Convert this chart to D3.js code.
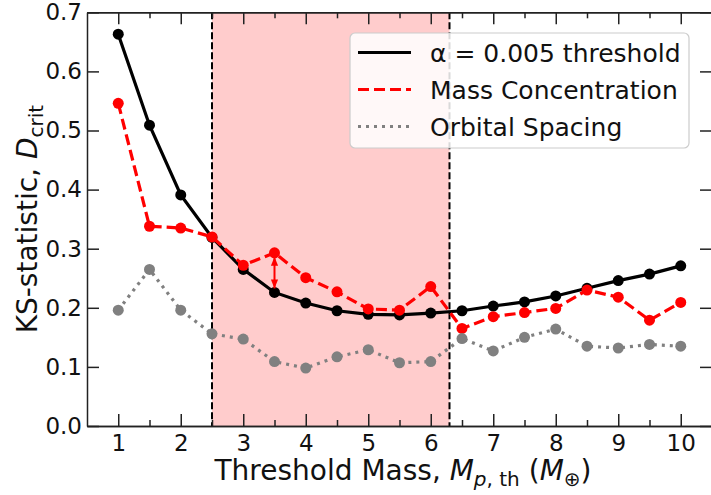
<!DOCTYPE html>
<html>
<head>
<meta charset="utf-8">
<script src="https://cdn.jsdelivr.net/npm/d3@7"></script>
<style>
  body { margin: 0; background: #fff; }
  svg { display: block; font-family: "DejaVu Sans", sans-serif; }
</style>
</head>
<body>
<svg id="chart" width="711" height="495"></svg>
<script>
// threshold masses (Earth masses)
var masses = [1, 1.5, 2, 2.5, 3, 3.5, 4, 4.5, 5, 5.5, 6, 6.5, 7, 7.5, 8, 8.5, 9, 9.5, 10];
// critical KS value, alpha = 0.005
var threshold = [0.663, 0.509, 0.391, 0.319, 0.265, 0.226, 0.208, 0.195, 0.189, 0.188, 0.191, 0.195, 0.203, 0.210, 0.220, 0.233, 0.246, 0.257, 0.271];
var massConc = [0.546, 0.338, 0.335, 0.320, 0.272, 0.293, 0.251, 0.227, 0.198, 0.196, 0.236, 0.165, 0.185, 0.192, 0.199, 0.230, 0.218, 0.179, 0.209];
var orbSpacing = [0.196, 0.265, 0.196, 0.156, 0.147, 0.109, 0.098, 0.117, 0.129, 0.107, 0.109, 0.148, 0.127, 0.150, 0.164, 0.135, 0.132, 0.138, 0.135];
var xTicks = [1, 2, 3, 4, 5, 6, 7, 8, 9, 10];
var xMinor = [1.5, 2.5, 3.5, 4.5, 5.5, 6.5, 7.5, 8.5, 9.5];
var yTicks = [0, 0.1, 0.2, 0.3, 0.4, 0.5, 0.6, 0.7];
var band = [2.5, 6.3];
var arrowAt = 3.5;

var svg = d3.select("#chart");
var plotLeft = 87, plotRight = 712, plotTop = 12.3, plotBottom = 426;

var x = d3.scaleLinear().domain([0.5, 10.5]).range([plotLeft, plotRight]);
var y = d3.scaleLinear().domain([0, 0.7]).range([plotBottom, plotTop]);

// shaded region
svg.append("rect")
    .attr("x", x(band[0]))
    .attr("y", plotTop)
    .attr("width", x(band[1]) - x(band[0]))
    .attr("height", plotBottom - plotTop)
    .style("fill", "#ffcccc");

band.forEach(function(b) {
  svg.append("line")
      .attr("x1", x(b)).attr("x2", x(b))
      .attr("y1", plotTop).attr("y2", plotBottom)
      .style("stroke", "black")
      .style("stroke-width", 2)
      .style("stroke-dasharray", "7,3");
});

var series = [
  { name: "α = 0.005 threshold", values: threshold, color: "black", dash: null },
  { name: "Mass Concentration", values: massConc, color: "red", dash: "11,5" },
  { name: "Orbital Spacing", values: orbSpacing, color: "gray", dash: "3,5" }
];

var line = d3.line()
    .x(function(d) { return x(d[0]); })
    .y(function(d) { return y(d[1]); });

series.forEach(function(s) {
  var pts = masses.map(function(m, i) { return [m, s.values[i]]; });
  var g = svg.append("g");
  g.append("path")
      .datum(pts)
      .attr("d", line)
      .style("fill", "none")
      .style("stroke", s.color)
      .style("stroke-width", 3.2)
      .style("stroke-dasharray", s.dash);
  g.selectAll("circle")
      .data(pts)
      .enter()
      .append("circle")
      .attr("cx", function(d) { return x(d[0]); })
      .attr("cy", function(d) { return y(d[1]); })
      .attr("r", 5.5)
      .style("fill", s.color);
});

// double arrow between red point and threshold at 3.5
var defs = svg.append("defs");
defs.append("marker")
    .attr("id", "head")
    .attr("viewBox", "0 0 10 10")
    .attr("refX", 10).attr("refY", 5)
    .attr("markerWidth", 9).attr("markerHeight", 9)
    .attr("markerUnits", "userSpaceOnUse")
    .attr("orient", "auto-start-reverse")
  .append("path")
    .attr("d", "M0,1 L10,5 L0,9 Z")
    .style("fill", "red");

var ai = masses.indexOf(arrowAt);
svg.append("line")
    .attr("x1", x(arrowAt)).attr("x2", x(arrowAt))
    .attr("y1", y(massConc[ai]) + 4)
    .attr("y2", y(threshold[ai]) - 4)
    .attr("marker-start", "url(#head)")
    .attr("marker-end", "url(#head)")
    .style("stroke", "red")
    .style("stroke-width", 2);

// axes, ticks pointing inward on all four sides
function styleAxis(g) {
  g.select(".domain").style("stroke", "#222").style("stroke-width", 1.5);
  g.selectAll(".tick line").style("stroke", "#222").style("stroke-width", 1.5);
  g.selectAll(".tick text").style("font-size", "23px").style("fill", "#111")
      .style("font-family", "DejaVu Sans");
}

svg.append("g")
    .attr("transform", "translate(0," + plotBottom + ")")
    .call(d3.axisBottom(x).tickValues(xTicks).tickSize(-12).tickSizeOuter(0).tickPadding(9).tickFormat(d3.format("d")))
    .call(styleAxis);
svg.append("g")
    .attr("transform", "translate(0," + plotBottom + ")")
    .call(d3.axisBottom(x).tickValues(xMinor).tickSize(-6).tickSizeOuter(0).tickFormat(""))
    .call(styleAxis);
svg.append("g")
    .attr("transform", "translate(0," + plotTop + ")")
    .call(d3.axisTop(x).tickValues(xTicks).tickSize(-12).tickSizeOuter(0).tickFormat(""))
    .call(styleAxis);
svg.append("g")
    .attr("transform", "translate(0," + plotTop + ")")
    .call(d3.axisTop(x).tickValues(xMinor).tickSize(-6).tickSizeOuter(0).tickFormat(""))
    .call(styleAxis);
svg.append("g")
    .attr("transform", "translate(" + plotLeft + ",0)")
    .call(d3.axisLeft(y).tickValues(yTicks).tickSize(-12).tickSizeOuter(0).tickPadding(5).tickFormat(d3.format(".1f")))
    .call(styleAxis);
svg.append("g")
    .attr("transform", "translate(" + plotRight + ",0)")
    .call(d3.axisRight(y).tickValues(yTicks).tickSize(-12).tickSizeOuter(0).tickFormat(""))
    .call(styleAxis);

// axis labels
var xl = svg.append("text")
    .attr("x", 403)
    .attr("y", 480)
    .attr("text-anchor", "middle")
    .style("font-size", "28px")
    .style("fill", "#111");
xl.append("tspan").text("Threshold Mass, ");
xl.append("tspan").style("font-style", "italic").text("M");
xl.append("tspan").attr("dy", 6).style("font-size", "20px").style("font-style", "italic").text("p");
xl.append("tspan").style("font-size", "20px").text(", th");
xl.append("tspan").attr("dy", -6).text(" (");
xl.append("tspan").style("font-style", "italic").text("M");
xl.append("tspan").attr("dy", 6).style("font-size", "20px").text("⊕");
xl.append("tspan").attr("dy", -6).text(")");

var yl = svg.append("text")
    .attr("transform", "translate(37," + ((plotTop + plotBottom) / 2) + ") rotate(-90)")
    .attr("text-anchor", "middle")
    .style("font-size", "28px")
    .style("fill", "#111");
yl.append("tspan").text("KS-statistic, ");
yl.append("tspan").style("font-style", "italic").text("D");
yl.append("tspan").attr("dy", 6).style("font-size", "20px").text("crit");

// legend
var legendX = 350, legendY = 33, legendW = 339, legendH = 115, rowH = 37;
var lg = svg.append("g");
lg.append("rect")
    .attr("x", legendX).attr("y", legendY)
    .attr("width", legendW).attr("height", legendH)
    .attr("rx", 5)
    .style("fill", "white").style("fill-opacity", 0.85)
    .style("stroke", "#cccccc").style("stroke-width", 1.2);

var rows = lg.selectAll("g.row")
    .data(series)
    .enter()
    .append("g")
    .attr("transform", function(d, i) {
      return "translate(" + legendX + "," + (legendY + 19.5 + i * rowH) + ")";
    });
rows.append("line")
    .attr("x1", 8).attr("x2", 61)
    .attr("y1", 0).attr("y2", 0)
    .style("stroke", function(d) { return d.color; })
    .style("stroke-width", 3.2)
    .style("stroke-dasharray", function(d) { return d.dash; });
rows.append("text")
    .attr("x", 80)
    .attr("y", 9)
    .style("font-size", "25px")
    .style("fill", "#111")
    .text(function(d) { return d.name; });
</script>
</body>
</html>
